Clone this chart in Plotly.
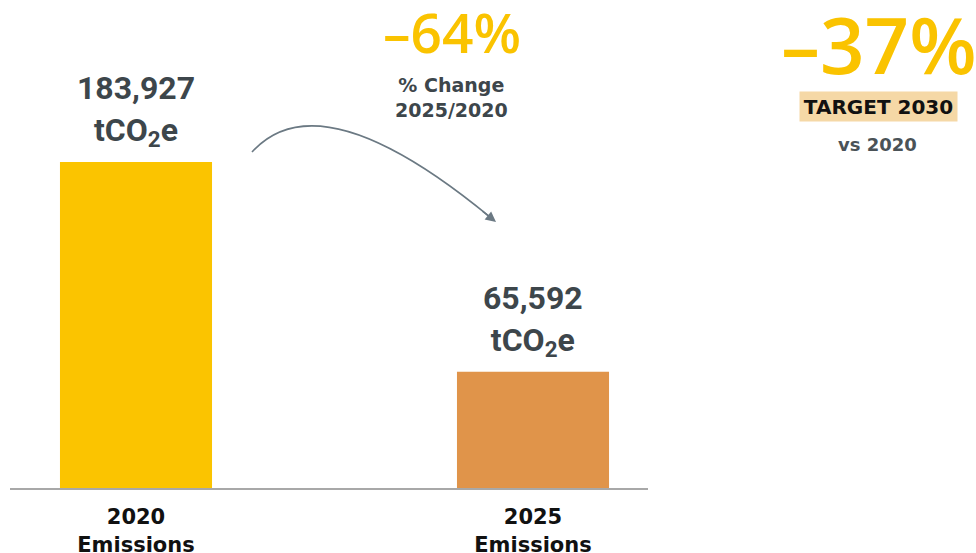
import plotly.graph_objects as go

# ---- data ----
years = ["2020", "2025"]
emissions = [183927, 65592]
tick_labels = ["2020<br>Emissions", "2025<br>Emissions"]
bar_colors = ["#FBC400", "#E0944A"]
change_pct = "–64%"
change_label = "% Change<br>2025/2020"
target_pct = "–37%"
target_label = "TARGET 2030"
target_sub = "vs 2020"

W, H = 976, 553
L, R, T, B = 10, 648, 0, 488   # plot area in pixels


def px(x):
    return (x - L) / (R - L)


def py(y):
    return (B - y) / (B - T)


GRAY = "#3d464b"
YEL = "#FAC300"
ARROW = "#6b7983"

fig = go.Figure()
fig.add_trace(go.Bar(
    x=years, y=emissions, marker=dict(color=bar_colors, line=dict(width=0)),
    width=0.383, hoverinfo="skip"))

ymax = emissions[0] * (B - T) / 326.0

annotations = []
for i, v in enumerate(emissions):
    annotations.append(dict(
        x=i, y=v, xref="x", yref="y", xanchor="center", yanchor="bottom", yshift=8,
        text=f"{v:,}<br>tCO<sub>2</sub>e", showarrow=False,
        font=dict(family="Roboto", size=32, color=GRAY, weight=700)))


def txt(x, y, text, **kw):
    d = dict(x=px(x), y=py(y), xref="paper", yref="paper", xanchor="center",
             yanchor="middle", text=text, showarrow=False)
    d.update(kw)
    return d


annotations += [
    txt(452, 32, change_pct, font=dict(family="Open Sans", size=55, color=YEL, weight=600)),
    txt(451, 98, change_label, font=dict(family="DejaVu Sans", size=19, color=GRAY, weight=700)),
    txt(879, 44, target_pct, font=dict(family="Open Sans", size=78, color=YEL, weight=600)),
    txt(878.5, 106.5, target_label, bgcolor="#F5D8A6", width=155, height=27, borderpad=1,
        font=dict(family="DejaVu Sans", size=20, color="#111111", weight=700)),
    txt(877, 145, target_sub, font=dict(family="DejaVu Sans", size=18, color="#4a5257", weight=700)),
    # arrow head
    dict(x=px(496), y=py(222), xref="paper", yref="paper", ax=-15, ay=-12,
         axref="pixel", ayref="pixel", text="", showarrow=True, arrowhead=2,
         arrowsize=1.3, arrowwidth=1.6, arrowcolor=ARROW),
]

# curved connector
p0, c1, c2, p1 = (252, 152), (290, 110), (360, 110), (490, 217)
path = "M {},{} C {},{} {},{} {},{}".format(
    px(p0[0]), py(p0[1]), px(c1[0]), py(c1[1]), px(c2[0]), py(c2[1]), px(p1[0]), py(p1[1]))

fig.update_layout(
    width=W, height=H,
    margin=dict(l=L, r=W - R, t=T, b=H - B, pad=0, autoexpand=False),
    paper_bgcolor="white", plot_bgcolor="white",
    showlegend=False,
    xaxis=dict(type="category", range=[-126 / 397, 512 / 397], automargin=False,
               tickvals=years, ticktext=tick_labels, showgrid=False, zeroline=False,
               showline=True, linecolor="#a8a8a8", linewidth=2, ticks="",
               ticklabelstandoff=9,
               tickfont=dict(family="DejaVu Sans", size=21, color="#111111", weight=700)),
    yaxis=dict(range=[0, ymax], visible=False, fixedrange=True, automargin=False),
    annotations=annotations,
    shapes=[dict(type="path", path=path, xref="paper", yref="paper",
                 line=dict(color=ARROW, width=1.6))],
)

fig.write_html("out.html")
